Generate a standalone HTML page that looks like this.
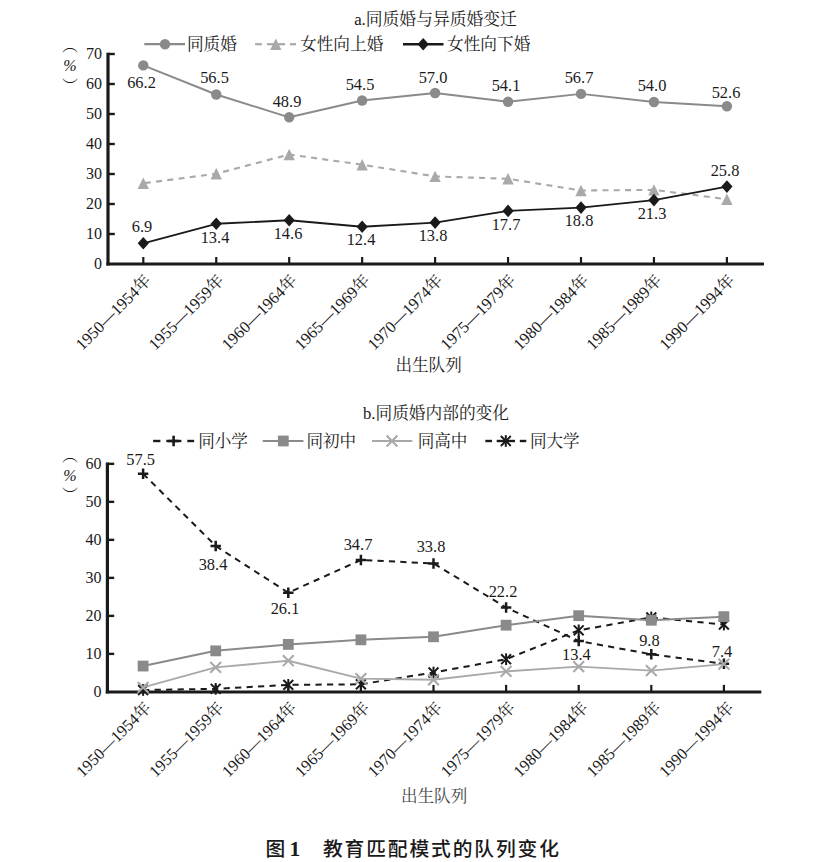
<!DOCTYPE html>
<html lang="zh-CN">
<head>
<meta charset="utf-8">
<title>图1 教育匹配模式的队列变化</title>
<style>
html,body{margin:0;padding:0;background:#fff;}
body{width:832px;height:862px;overflow:hidden;}
svg{display:block;}
</style>
</head>
<body>
<svg width="832" height="862" viewBox="0 0 832 862">
<rect width="832" height="862" fill="#fff"/>
<text x="435.5" y="25.2" font-size="16.8" text-anchor="middle" font-family='"Liberation Serif","Noto Serif CJK SC",serif' fill="#1a1a1a">a.同质婚与异质婚变迁</text>
<path d="M144.3 44.2H185" stroke="#8a8a8a" stroke-width="2.2" fill="none"/>
<circle cx="165" cy="44.2" r="5.2" fill="#8a8a8a"/>
<text x="186.9" y="50" font-size="16.7" text-anchor="start" font-family='"Liberation Serif","Noto Serif CJK SC",serif' fill="#1a1a1a">同质婚</text>
<path d="M255.1 44.2H261.9" stroke="#a9a9a9" stroke-width="2.2" fill="none"/>
<path d="M266.9 44.2H285.1" stroke="#a9a9a9" stroke-width="2.2" fill="none"/>
<path d="M290 44.2H296" stroke="#a9a9a9" stroke-width="2.2" fill="none"/>
<polygon points="275.8,38.5 270.1,49.9 281.5,49.9" fill="#a9a9a9"/>
<text x="300" y="50" font-size="16.7" text-anchor="start" font-family='"Liberation Serif","Noto Serif CJK SC",serif' fill="#1a1a1a">女性向上婚</text>
<path d="M403 44.2H443.5" stroke="#1a1a1a" stroke-width="2.4" fill="none"/>
<polygon points="423.2,37.9 428.81,44.2 423.2,50.5 417.59,44.2" fill="#1a1a1a"/>
<text x="447" y="50" font-size="16.7" text-anchor="start" font-family='"Liberation Serif","Noto Serif CJK SC",serif' fill="#1a1a1a">女性向下婚</text>
<path d="M108 52.7V265.5" stroke="#1a1a1a" stroke-width="3.2" fill="none"/>
<path d="M106.4 264H764" stroke="#1a1a1a" stroke-width="3" fill="none"/>
<path d="M108 234H114.8" stroke="#1a1a1a" stroke-width="2.4" fill="none"/>
<path d="M108 204H114.8" stroke="#1a1a1a" stroke-width="2.4" fill="none"/>
<path d="M108 174H114.8" stroke="#1a1a1a" stroke-width="2.4" fill="none"/>
<path d="M108 144H114.8" stroke="#1a1a1a" stroke-width="2.4" fill="none"/>
<path d="M108 114H114.8" stroke="#1a1a1a" stroke-width="2.4" fill="none"/>
<path d="M108 84H114.8" stroke="#1a1a1a" stroke-width="2.4" fill="none"/>
<path d="M108 54H114.8" stroke="#1a1a1a" stroke-width="2.4" fill="none"/>
<path d="M143.3 264V257" stroke="#1a1a1a" stroke-width="2.2" fill="none"/>
<path d="M216.25 264V257" stroke="#1a1a1a" stroke-width="2.2" fill="none"/>
<path d="M289.2 264V257" stroke="#1a1a1a" stroke-width="2.2" fill="none"/>
<path d="M362.15 264V257" stroke="#1a1a1a" stroke-width="2.2" fill="none"/>
<path d="M435.1 264V257" stroke="#1a1a1a" stroke-width="2.2" fill="none"/>
<path d="M508.05 264V257" stroke="#1a1a1a" stroke-width="2.2" fill="none"/>
<path d="M581 264V257" stroke="#1a1a1a" stroke-width="2.2" fill="none"/>
<path d="M653.95 264V257" stroke="#1a1a1a" stroke-width="2.2" fill="none"/>
<path d="M726.9 264V257" stroke="#1a1a1a" stroke-width="2.2" fill="none"/>
<text x="101.9" y="268.9" font-size="16" text-anchor="end" font-family='"Liberation Serif","Noto Serif CJK SC",serif' fill="#1a1a1a">0</text>
<text x="101.9" y="238.9" font-size="16" text-anchor="end" font-family='"Liberation Serif","Noto Serif CJK SC",serif' fill="#1a1a1a">10</text>
<text x="101.9" y="208.9" font-size="16" text-anchor="end" font-family='"Liberation Serif","Noto Serif CJK SC",serif' fill="#1a1a1a">20</text>
<text x="101.9" y="178.9" font-size="16" text-anchor="end" font-family='"Liberation Serif","Noto Serif CJK SC",serif' fill="#1a1a1a">30</text>
<text x="101.9" y="148.9" font-size="16" text-anchor="end" font-family='"Liberation Serif","Noto Serif CJK SC",serif' fill="#1a1a1a">40</text>
<text x="101.9" y="118.9" font-size="16" text-anchor="end" font-family='"Liberation Serif","Noto Serif CJK SC",serif' fill="#1a1a1a">50</text>
<text x="101.9" y="88.9" font-size="16" text-anchor="end" font-family='"Liberation Serif","Noto Serif CJK SC",serif' fill="#1a1a1a">60</text>
<text x="101.9" y="58.9" font-size="16" text-anchor="end" font-family='"Liberation Serif","Noto Serif CJK SC",serif' fill="#1a1a1a">70</text>
<text x="70" y="51" font-size="16" text-anchor="middle" font-family='"Liberation Serif","Noto Serif CJK SC",serif' fill="#1a1a1a">︵</text>
<text x="70" y="71.4" font-size="16" text-anchor="middle" font-family='"Liberation Serif","Noto Serif CJK SC",serif' fill="#1a1a1a" font-style="italic">%</text>
<text x="70" y="91.8" font-size="16" text-anchor="middle" font-family='"Liberation Serif","Noto Serif CJK SC",serif' fill="#1a1a1a">︶</text>
<polyline points="143.3,65.4 216.25,94.5 289.2,117.3 362.15,100.5 435.1,93 508.05,101.7 581,93.9 653.95,102 726.9,106.2" fill="none" stroke="#8a8a8a" stroke-width="1.9" stroke-linejoin="round"/>
<circle cx="143.3" cy="65.4" r="5.2" fill="#8a8a8a"/>
<circle cx="216.25" cy="94.5" r="5.2" fill="#8a8a8a"/>
<circle cx="289.2" cy="117.3" r="5.2" fill="#8a8a8a"/>
<circle cx="362.15" cy="100.5" r="5.2" fill="#8a8a8a"/>
<circle cx="435.1" cy="93" r="5.2" fill="#8a8a8a"/>
<circle cx="508.05" cy="101.7" r="5.2" fill="#8a8a8a"/>
<circle cx="581" cy="93.9" r="5.2" fill="#8a8a8a"/>
<circle cx="653.95" cy="102" r="5.2" fill="#8a8a8a"/>
<circle cx="726.9" cy="106.2" r="5.2" fill="#8a8a8a"/>
<polyline points="143.3,183.3 216.25,173.7 289.2,154.5 362.15,164.7 435.1,176.4 508.05,178.8 581,190.5 653.95,189.9 726.9,199.2" fill="none" stroke="#a9a9a9" stroke-width="2.1" stroke-dasharray="6 5.3" stroke-dashoffset="9.7" stroke-linejoin="round"/>
<polygon points="143.3,177.6 137.6,189 149,189" fill="#a9a9a9"/>
<polygon points="216.25,168 210.55,179.4 221.95,179.4" fill="#a9a9a9"/>
<polygon points="289.2,148.8 283.5,160.2 294.9,160.2" fill="#a9a9a9"/>
<polygon points="362.15,159 356.45,170.4 367.85,170.4" fill="#a9a9a9"/>
<polygon points="435.1,170.7 429.4,182.1 440.8,182.1" fill="#a9a9a9"/>
<polygon points="508.05,173.1 502.35,184.5 513.75,184.5" fill="#a9a9a9"/>
<polygon points="581,184.8 575.3,196.2 586.7,196.2" fill="#a9a9a9"/>
<polygon points="653.95,184.2 648.25,195.6 659.65,195.6" fill="#a9a9a9"/>
<polygon points="726.9,193.5 721.2,204.9 732.6,204.9" fill="#a9a9a9"/>
<polyline points="143.3,243.3 216.25,223.8 289.2,220.2 362.15,226.8 435.1,222.6 508.05,210.9 581,207.6 653.95,200.1 726.9,186.6" fill="none" stroke="#1a1a1a" stroke-width="1.9" stroke-linejoin="round"/>
<polygon points="143.3,237 148.91,243.3 143.3,249.6 137.69,243.3" fill="#1a1a1a"/>
<polygon points="216.25,217.5 221.86,223.8 216.25,230.1 210.64,223.8" fill="#1a1a1a"/>
<polygon points="289.2,213.9 294.81,220.2 289.2,226.5 283.59,220.2" fill="#1a1a1a"/>
<polygon points="362.15,220.5 367.76,226.8 362.15,233.1 356.54,226.8" fill="#1a1a1a"/>
<polygon points="435.1,216.3 440.71,222.6 435.1,228.9 429.49,222.6" fill="#1a1a1a"/>
<polygon points="508.05,204.6 513.66,210.9 508.05,217.2 502.44,210.9" fill="#1a1a1a"/>
<polygon points="581,201.3 586.61,207.6 581,213.9 575.39,207.6" fill="#1a1a1a"/>
<polygon points="653.95,193.8 659.56,200.1 653.95,206.4 648.34,200.1" fill="#1a1a1a"/>
<polygon points="726.9,180.3 732.51,186.6 726.9,192.9 721.29,186.6" fill="#1a1a1a"/>
<text x="141.5" y="88.3" font-size="16.4" text-anchor="middle" font-family='"Liberation Serif","Noto Serif CJK SC",serif' fill="#1a1a1a">66.2</text>
<text x="214.5" y="83" font-size="16.4" text-anchor="middle" font-family='"Liberation Serif","Noto Serif CJK SC",serif' fill="#1a1a1a">56.5</text>
<text x="287" y="106.8" font-size="16.4" text-anchor="middle" font-family='"Liberation Serif","Noto Serif CJK SC",serif' fill="#1a1a1a">48.9</text>
<text x="360" y="89.8" font-size="16.4" text-anchor="middle" font-family='"Liberation Serif","Noto Serif CJK SC",serif' fill="#1a1a1a">54.5</text>
<text x="433" y="82.8" font-size="16.4" text-anchor="middle" font-family='"Liberation Serif","Noto Serif CJK SC",serif' fill="#1a1a1a">57.0</text>
<text x="506" y="90.8" font-size="16.4" text-anchor="middle" font-family='"Liberation Serif","Noto Serif CJK SC",serif' fill="#1a1a1a">54.1</text>
<text x="579" y="82.8" font-size="16.4" text-anchor="middle" font-family='"Liberation Serif","Noto Serif CJK SC",serif' fill="#1a1a1a">56.7</text>
<text x="652" y="90.8" font-size="16.4" text-anchor="middle" font-family='"Liberation Serif","Noto Serif CJK SC",serif' fill="#1a1a1a">54.0</text>
<text x="726" y="97.8" font-size="16.4" text-anchor="middle" font-family='"Liberation Serif","Noto Serif CJK SC",serif' fill="#1a1a1a">52.6</text>
<text x="142" y="232.2" font-size="16.4" text-anchor="middle" font-family='"Liberation Serif","Noto Serif CJK SC",serif' fill="#1a1a1a">6.9</text>
<text x="215" y="242.8" font-size="16.4" text-anchor="middle" font-family='"Liberation Serif","Noto Serif CJK SC",serif' fill="#1a1a1a">13.4</text>
<text x="288" y="238.8" font-size="16.4" text-anchor="middle" font-family='"Liberation Serif","Noto Serif CJK SC",serif' fill="#1a1a1a">14.6</text>
<text x="361" y="245.3" font-size="16.4" text-anchor="middle" font-family='"Liberation Serif","Noto Serif CJK SC",serif' fill="#1a1a1a">12.4</text>
<text x="433" y="241.3" font-size="16.4" text-anchor="middle" font-family='"Liberation Serif","Noto Serif CJK SC",serif' fill="#1a1a1a">13.8</text>
<text x="506" y="229.8" font-size="16.4" text-anchor="middle" font-family='"Liberation Serif","Noto Serif CJK SC",serif' fill="#1a1a1a">17.7</text>
<text x="579" y="226.3" font-size="16.4" text-anchor="middle" font-family='"Liberation Serif","Noto Serif CJK SC",serif' fill="#1a1a1a">18.8</text>
<text x="652" y="218.8" font-size="16.4" text-anchor="middle" font-family='"Liberation Serif","Noto Serif CJK SC",serif' fill="#1a1a1a">21.3</text>
<text x="725" y="175.8" font-size="16.4" text-anchor="middle" font-family='"Liberation Serif","Noto Serif CJK SC",serif' fill="#1a1a1a">25.8</text>
<text transform="translate(151.9 281.5) rotate(-45)" font-size="16.4" text-anchor="end" font-family='"Liberation Serif","Noto Serif CJK SC",serif' fill="#1a1a1a">1950—1954年</text>
<text transform="translate(224.85 281.5) rotate(-45)" font-size="16.4" text-anchor="end" font-family='"Liberation Serif","Noto Serif CJK SC",serif' fill="#1a1a1a">1955—1959年</text>
<text transform="translate(297.8 281.5) rotate(-45)" font-size="16.4" text-anchor="end" font-family='"Liberation Serif","Noto Serif CJK SC",serif' fill="#1a1a1a">1960—1964年</text>
<text transform="translate(370.75 281.5) rotate(-45)" font-size="16.4" text-anchor="end" font-family='"Liberation Serif","Noto Serif CJK SC",serif' fill="#1a1a1a">1965—1969年</text>
<text transform="translate(443.7 281.5) rotate(-45)" font-size="16.4" text-anchor="end" font-family='"Liberation Serif","Noto Serif CJK SC",serif' fill="#1a1a1a">1970—1974年</text>
<text transform="translate(516.65 281.5) rotate(-45)" font-size="16.4" text-anchor="end" font-family='"Liberation Serif","Noto Serif CJK SC",serif' fill="#1a1a1a">1975—1979年</text>
<text transform="translate(589.6 281.5) rotate(-45)" font-size="16.4" text-anchor="end" font-family='"Liberation Serif","Noto Serif CJK SC",serif' fill="#1a1a1a">1980—1984年</text>
<text transform="translate(662.55 281.5) rotate(-45)" font-size="16.4" text-anchor="end" font-family='"Liberation Serif","Noto Serif CJK SC",serif' fill="#1a1a1a">1985—1989年</text>
<text transform="translate(735.5 281.5) rotate(-45)" font-size="16.4" text-anchor="end" font-family='"Liberation Serif","Noto Serif CJK SC",serif' fill="#1a1a1a">1990—1994年</text>
<text x="428.6" y="371.1" font-size="16.6" text-anchor="middle" font-family='"Liberation Serif","Noto Serif CJK SC",serif' fill="#1a1a1a">出生队列</text>
<text x="436" y="418.6" font-size="16.7" text-anchor="middle" font-family='"Liberation Serif","Noto Serif CJK SC",serif' fill="#1a1a1a">b.同质婚内部的变化</text>
<path d="M153.1 441H160.4" stroke="#1a1a1a" stroke-width="2.4" fill="none"/>
<path d="M166.3 441H181.4" stroke="#1a1a1a" stroke-width="2.4" fill="none"/>
<path d="M187.3 441H194.2" stroke="#1a1a1a" stroke-width="2.4" fill="none"/>
<path d="M168.4 441H178.8M173.6 435.8V446.2" stroke="#1a1a1a" stroke-width="2.6" fill="none"/>
<text x="198.2" y="446.8" font-size="16.6" text-anchor="start" font-family='"Liberation Serif","Noto Serif CJK SC",serif' fill="#1a1a1a">同小学</text>
<path d="M262.7 441H303.4" stroke="#8a8a8a" stroke-width="2.2" fill="none"/>
<rect x="277.9" y="435.6" width="10.8" height="10.8" fill="#8a8a8a"/>
<text x="306.4" y="446.8" font-size="16.6" text-anchor="start" font-family='"Liberation Serif","Noto Serif CJK SC",serif' fill="#1a1a1a">同初中</text>
<path d="M372 441H412.3" stroke="#a9a9a9" stroke-width="2.1" fill="none"/>
<path d="M386.6 435.6L397.4 446.4M386.6 446.4L397.4 435.6" stroke="#a9a9a9" stroke-width="2.1" fill="none"/>
<text x="417.7" y="446.8" font-size="16.6" text-anchor="start" font-family='"Liberation Serif","Noto Serif CJK SC",serif' fill="#1a1a1a">同高中</text>
<path d="M485.3 441H492" stroke="#1a1a1a" stroke-width="2.4" fill="none"/>
<path d="M496.7 441H515" stroke="#1a1a1a" stroke-width="2.4" fill="none"/>
<path d="M519.8 441H526.3" stroke="#1a1a1a" stroke-width="2.4" fill="none"/>
<path d="M500.85 436.05L510.75 445.95M500.85 445.95L510.75 436.05" stroke="#1a1a1a" stroke-width="2.0" fill="none"/>
<path d="M505.8 435.17V446.83" stroke="#1a1a1a" stroke-width="2.0" fill="none"/>
<text x="529.9" y="446.8" font-size="16.6" text-anchor="start" font-family='"Liberation Serif","Noto Serif CJK SC",serif' fill="#1a1a1a">同大学</text>
<path d="M107.4 462.5V693.4" stroke="#1a1a1a" stroke-width="3.2" fill="none"/>
<path d="M105.8 691.9H761.3" stroke="#1a1a1a" stroke-width="3" fill="none"/>
<path d="M107.4 653.89H114.2" stroke="#1a1a1a" stroke-width="2.4" fill="none"/>
<path d="M107.4 615.88H114.2" stroke="#1a1a1a" stroke-width="2.4" fill="none"/>
<path d="M107.4 577.87H114.2" stroke="#1a1a1a" stroke-width="2.4" fill="none"/>
<path d="M107.4 539.86H114.2" stroke="#1a1a1a" stroke-width="2.4" fill="none"/>
<path d="M107.4 501.85H114.2" stroke="#1a1a1a" stroke-width="2.4" fill="none"/>
<path d="M107.4 463.84H114.2" stroke="#1a1a1a" stroke-width="2.4" fill="none"/>
<path d="M143.1 691.9V684.9" stroke="#1a1a1a" stroke-width="2.2" fill="none"/>
<path d="M215.7 691.9V684.9" stroke="#1a1a1a" stroke-width="2.2" fill="none"/>
<path d="M288.3 691.9V684.9" stroke="#1a1a1a" stroke-width="2.2" fill="none"/>
<path d="M360.9 691.9V684.9" stroke="#1a1a1a" stroke-width="2.2" fill="none"/>
<path d="M433.5 691.9V684.9" stroke="#1a1a1a" stroke-width="2.2" fill="none"/>
<path d="M506.1 691.9V684.9" stroke="#1a1a1a" stroke-width="2.2" fill="none"/>
<path d="M578.7 691.9V684.9" stroke="#1a1a1a" stroke-width="2.2" fill="none"/>
<path d="M651.3 691.9V684.9" stroke="#1a1a1a" stroke-width="2.2" fill="none"/>
<path d="M723.9 691.9V684.9" stroke="#1a1a1a" stroke-width="2.2" fill="none"/>
<text x="101.4" y="696.8" font-size="16" text-anchor="end" font-family='"Liberation Serif","Noto Serif CJK SC",serif' fill="#1a1a1a">0</text>
<text x="101.4" y="658.79" font-size="16" text-anchor="end" font-family='"Liberation Serif","Noto Serif CJK SC",serif' fill="#1a1a1a">10</text>
<text x="101.4" y="620.78" font-size="16" text-anchor="end" font-family='"Liberation Serif","Noto Serif CJK SC",serif' fill="#1a1a1a">20</text>
<text x="101.4" y="582.77" font-size="16" text-anchor="end" font-family='"Liberation Serif","Noto Serif CJK SC",serif' fill="#1a1a1a">30</text>
<text x="101.4" y="544.76" font-size="16" text-anchor="end" font-family='"Liberation Serif","Noto Serif CJK SC",serif' fill="#1a1a1a">40</text>
<text x="101.4" y="506.75" font-size="16" text-anchor="end" font-family='"Liberation Serif","Noto Serif CJK SC",serif' fill="#1a1a1a">50</text>
<text x="101.4" y="468.74" font-size="16" text-anchor="end" font-family='"Liberation Serif","Noto Serif CJK SC",serif' fill="#1a1a1a">60</text>
<text x="70" y="460.6" font-size="16" text-anchor="middle" font-family='"Liberation Serif","Noto Serif CJK SC",serif' fill="#1a1a1a">︵</text>
<text x="70" y="481" font-size="16" text-anchor="middle" font-family='"Liberation Serif","Noto Serif CJK SC",serif' fill="#1a1a1a" font-style="italic">%</text>
<text x="70" y="501.4" font-size="16" text-anchor="middle" font-family='"Liberation Serif","Noto Serif CJK SC",serif' fill="#1a1a1a">︶</text>
<polyline points="143.1,690 215.7,688.86 288.3,684.87 360.9,684.3 433.5,672.51 506.1,659.21 578.7,630.32 651.3,617.4 723.9,624.62" fill="none" stroke="#1a1a1a" stroke-width="2.0" stroke-dasharray="6.2 5.3" stroke-linejoin="round"/>
<path d="M138.15 685.05L148.05 694.95M138.15 694.95L148.05 685.05" stroke="#1a1a1a" stroke-width="2.0" fill="none"/>
<path d="M143.1 684.17V695.83" stroke="#1a1a1a" stroke-width="2.0" fill="none"/>
<path d="M210.75 683.91L220.65 693.81M210.75 693.81L220.65 683.91" stroke="#1a1a1a" stroke-width="2.0" fill="none"/>
<path d="M215.7 683.03V694.69" stroke="#1a1a1a" stroke-width="2.0" fill="none"/>
<path d="M283.35 679.92L293.25 689.82M283.35 689.82L293.25 679.92" stroke="#1a1a1a" stroke-width="2.0" fill="none"/>
<path d="M288.3 679.04V690.7" stroke="#1a1a1a" stroke-width="2.0" fill="none"/>
<path d="M355.95 679.35L365.85 689.25M355.95 689.25L365.85 679.35" stroke="#1a1a1a" stroke-width="2.0" fill="none"/>
<path d="M360.9 678.47V690.13" stroke="#1a1a1a" stroke-width="2.0" fill="none"/>
<path d="M428.55 667.56L438.45 677.46M428.55 677.46L438.45 667.56" stroke="#1a1a1a" stroke-width="2.0" fill="none"/>
<path d="M433.5 666.68V678.34" stroke="#1a1a1a" stroke-width="2.0" fill="none"/>
<path d="M501.15 654.26L511.05 664.16M501.15 664.16L511.05 654.26" stroke="#1a1a1a" stroke-width="2.0" fill="none"/>
<path d="M506.1 653.38V665.04" stroke="#1a1a1a" stroke-width="2.0" fill="none"/>
<path d="M573.75 625.37L583.65 635.27M573.75 635.27L583.65 625.37" stroke="#1a1a1a" stroke-width="2.0" fill="none"/>
<path d="M578.7 624.49V636.15" stroke="#1a1a1a" stroke-width="2.0" fill="none"/>
<path d="M646.35 612.45L656.25 622.35M646.35 622.35L656.25 612.45" stroke="#1a1a1a" stroke-width="2.0" fill="none"/>
<path d="M651.3 611.57V623.23" stroke="#1a1a1a" stroke-width="2.0" fill="none"/>
<path d="M718.95 619.67L728.85 629.57M718.95 629.57L728.85 619.67" stroke="#1a1a1a" stroke-width="2.0" fill="none"/>
<path d="M723.9 618.79V630.45" stroke="#1a1a1a" stroke-width="2.0" fill="none"/>
<polyline points="143.1,473.72 215.7,545.94 288.3,592.69 360.9,560.01 433.5,563.43 506.1,607.52 578.7,640.97 651.3,654.27 723.9,663.77" fill="none" stroke="#1a1a1a" stroke-width="2.0" stroke-dasharray="6.2 5.2" stroke-linejoin="round"/>
<path d="M137.9 473.72H148.3M143.1 468.52V478.92" stroke="#1a1a1a" stroke-width="2.5" fill="none"/>
<path d="M210.5 545.94H220.9M215.7 540.74V551.14" stroke="#1a1a1a" stroke-width="2.5" fill="none"/>
<path d="M283.1 592.69H293.5M288.3 587.49V597.89" stroke="#1a1a1a" stroke-width="2.5" fill="none"/>
<path d="M355.7 560.01H366.1M360.9 554.81V565.21" stroke="#1a1a1a" stroke-width="2.5" fill="none"/>
<path d="M428.3 563.43H438.7M433.5 558.23V568.63" stroke="#1a1a1a" stroke-width="2.5" fill="none"/>
<path d="M500.9 607.52H511.3M506.1 602.32V612.72" stroke="#1a1a1a" stroke-width="2.5" fill="none"/>
<path d="M573.5 640.97H583.9M578.7 635.77V646.17" stroke="#1a1a1a" stroke-width="2.5" fill="none"/>
<path d="M646.1 654.27H656.5M651.3 649.07V659.47" stroke="#1a1a1a" stroke-width="2.5" fill="none"/>
<path d="M718.7 663.77H729.1M723.9 658.57V668.97" stroke="#1a1a1a" stroke-width="2.5" fill="none"/>
<polyline points="143.1,666.05 215.7,650.85 288.3,644.39 360.9,639.83 433.5,636.79 506.1,625.19 578.7,615.69 651.3,620.25 723.9,616.64" fill="none" stroke="#8a8a8a" stroke-width="2.0" stroke-linejoin="round"/>
<rect x="137.7" y="660.65" width="10.8" height="10.8" fill="#8a8a8a"/>
<rect x="210.3" y="645.45" width="10.8" height="10.8" fill="#8a8a8a"/>
<rect x="282.9" y="638.99" width="10.8" height="10.8" fill="#8a8a8a"/>
<rect x="355.5" y="634.43" width="10.8" height="10.8" fill="#8a8a8a"/>
<rect x="428.1" y="631.39" width="10.8" height="10.8" fill="#8a8a8a"/>
<rect x="500.7" y="619.79" width="10.8" height="10.8" fill="#8a8a8a"/>
<rect x="573.3" y="610.29" width="10.8" height="10.8" fill="#8a8a8a"/>
<rect x="645.9" y="614.85" width="10.8" height="10.8" fill="#8a8a8a"/>
<rect x="718.5" y="611.24" width="10.8" height="10.8" fill="#8a8a8a"/>
<polyline points="143.1,687.34 215.7,667.38 288.3,660.73 360.9,678.6 433.5,679.74 506.1,671.37 578.7,666.62 651.3,670.61 723.9,664.15" fill="none" stroke="#a9a9a9" stroke-width="1.9" stroke-linejoin="round"/>
<path d="M137.7 681.94L148.5 692.74M137.7 692.74L148.5 681.94" stroke="#a9a9a9" stroke-width="2.1" fill="none"/>
<path d="M210.3 661.98L221.1 672.78M210.3 672.78L221.1 661.98" stroke="#a9a9a9" stroke-width="2.1" fill="none"/>
<path d="M282.9 655.33L293.7 666.13M282.9 666.13L293.7 655.33" stroke="#a9a9a9" stroke-width="2.1" fill="none"/>
<path d="M355.5 673.2L366.3 684M355.5 684L366.3 673.2" stroke="#a9a9a9" stroke-width="2.1" fill="none"/>
<path d="M428.1 674.34L438.9 685.14M428.1 685.14L438.9 674.34" stroke="#a9a9a9" stroke-width="2.1" fill="none"/>
<path d="M500.7 665.97L511.5 676.77M500.7 676.77L511.5 665.97" stroke="#a9a9a9" stroke-width="2.1" fill="none"/>
<path d="M573.3 661.22L584.1 672.02M573.3 672.02L584.1 661.22" stroke="#a9a9a9" stroke-width="2.1" fill="none"/>
<path d="M645.9 665.21L656.7 676.01M645.9 676.01L656.7 665.21" stroke="#a9a9a9" stroke-width="2.1" fill="none"/>
<path d="M718.5 658.75L729.3 669.55M718.5 669.55L729.3 658.75" stroke="#a9a9a9" stroke-width="2.1" fill="none"/>
<text x="140.6" y="464.5" font-size="16.4" text-anchor="middle" font-family='"Liberation Serif","Noto Serif CJK SC",serif' fill="#1a1a1a">57.5</text>
<text x="213" y="570.3" font-size="16.4" text-anchor="middle" font-family='"Liberation Serif","Noto Serif CJK SC",serif' fill="#1a1a1a">38.4</text>
<text x="285" y="613.8" font-size="16.4" text-anchor="middle" font-family='"Liberation Serif","Noto Serif CJK SC",serif' fill="#1a1a1a">26.1</text>
<text x="358" y="549.8" font-size="16.4" text-anchor="middle" font-family='"Liberation Serif","Noto Serif CJK SC",serif' fill="#1a1a1a">34.7</text>
<text x="431" y="552.3" font-size="16.4" text-anchor="middle" font-family='"Liberation Serif","Noto Serif CJK SC",serif' fill="#1a1a1a">33.8</text>
<text x="503" y="596.8" font-size="16.4" text-anchor="middle" font-family='"Liberation Serif","Noto Serif CJK SC",serif' fill="#1a1a1a">22.2</text>
<text x="576.4" y="659.6" font-size="16.4" text-anchor="middle" font-family='"Liberation Serif","Noto Serif CJK SC",serif' fill="#1a1a1a">13.4</text>
<text x="649.4" y="646.1" font-size="16.4" text-anchor="middle" font-family='"Liberation Serif","Noto Serif CJK SC",serif' fill="#1a1a1a">9.8</text>
<text x="722" y="656.6" font-size="16.4" text-anchor="middle" font-family='"Liberation Serif","Noto Serif CJK SC",serif' fill="#1a1a1a">7.4</text>
<text transform="translate(151.9 708.8) rotate(-45)" font-size="16.3" text-anchor="end" font-family='"Liberation Serif","Noto Serif CJK SC",serif' fill="#1a1a1a">1950—1954年</text>
<text transform="translate(224.77 708.8) rotate(-45)" font-size="16.3" text-anchor="end" font-family='"Liberation Serif","Noto Serif CJK SC",serif' fill="#1a1a1a">1955—1959年</text>
<text transform="translate(297.64 708.8) rotate(-45)" font-size="16.3" text-anchor="end" font-family='"Liberation Serif","Noto Serif CJK SC",serif' fill="#1a1a1a">1960—1964年</text>
<text transform="translate(370.51 708.8) rotate(-45)" font-size="16.3" text-anchor="end" font-family='"Liberation Serif","Noto Serif CJK SC",serif' fill="#1a1a1a">1965—1969年</text>
<text transform="translate(443.38 708.8) rotate(-45)" font-size="16.3" text-anchor="end" font-family='"Liberation Serif","Noto Serif CJK SC",serif' fill="#1a1a1a">1970—1974年</text>
<text transform="translate(516.25 708.8) rotate(-45)" font-size="16.3" text-anchor="end" font-family='"Liberation Serif","Noto Serif CJK SC",serif' fill="#1a1a1a">1975—1979年</text>
<text transform="translate(589.12 708.8) rotate(-45)" font-size="16.3" text-anchor="end" font-family='"Liberation Serif","Noto Serif CJK SC",serif' fill="#1a1a1a">1980—1984年</text>
<text transform="translate(661.99 708.8) rotate(-45)" font-size="16.3" text-anchor="end" font-family='"Liberation Serif","Noto Serif CJK SC",serif' fill="#1a1a1a">1985—1989年</text>
<text transform="translate(734.86 708.8) rotate(-45)" font-size="16.3" text-anchor="end" font-family='"Liberation Serif","Noto Serif CJK SC",serif' fill="#1a1a1a">1990—1994年</text>
<text x="434.1" y="802.4" font-size="16.6" text-anchor="middle" font-family='"Liberation Serif","Noto Serif CJK SC",serif' fill="#444">出生队列</text>
<text x="265.6" y="855.8" font-size="19.8" font-weight="500" font-family='"Liberation Sans","Noto Sans CJK SC",sans-serif' fill="#1a1a1a">图</text>
<text x="289.4" y="856" font-size="21.5" font-weight="bold" font-family='"Liberation Serif","Noto Serif CJK SC",serif' fill="#1a1a1a">1</text>
<text x="323.0" y="855.8" font-size="19.8" font-weight="500" font-family='"Liberation Sans","Noto Sans CJK SC",sans-serif' fill="#1a1a1a" letter-spacing="1.84">教育匹配模式的队列变化</text>
</svg>
</body>
</html>
